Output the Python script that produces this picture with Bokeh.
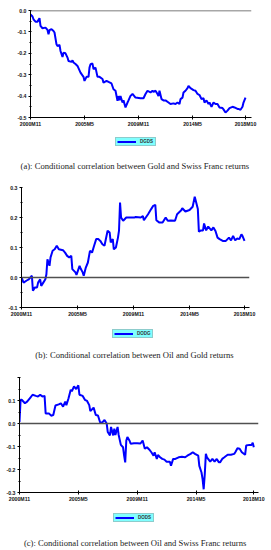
from bokeh.plotting import figure
from bokeh.layouts import column
from bokeh.models import (Range1d, FixedTicker, Span, Legend, LegendItem, Label,
                          ColumnDataSource)
from bokeh.embed import file_html
from bokeh.resources import INLINE

# ---------------- data ----------------
month_ticks = [0, 54, 108, 162, 215]
month_labels = ["2000M11", "2005M5", "2009M11", "2014M5", "2018M10"]

a_month = [0, 2, 3, 5, 7, 9, 10, 12, 15, 17, 18, 19, 21, 23, 24, 26, 27, 29, 30, 32,
           33, 35, 37, 38, 41, 42, 43, 45, 47, 50, 53, 54, 56, 58, 59, 60, 62, 63, 65, 67,
           69, 72, 73, 76, 78, 81, 83, 85, 87, 88, 89, 90, 92, 93, 95, 97, 98, 100, 102, 105,
           110, 113, 115, 117, 120, 122, 123, 125, 127, 128, 129, 131, 133, 135, 138, 140, 143, 145, 147, 149,
           150, 152, 153, 155, 157, 158, 160, 163, 165, 167, 169, 171, 173, 174, 176, 178, 179, 181, 183, 185,
           187, 189, 192, 193, 195, 197, 199, 202, 204, 207, 208, 210, 212, 213, 215]
a_corr = [-0.018, -0.028, -0.041, -0.052, -0.052, -0.036, -0.072, -0.083, -0.080, -0.091,
          -0.111, -0.092, -0.087, -0.096, -0.103, -0.158, -0.166, -0.161, -0.189, -0.217,
          -0.197, -0.200, -0.220, -0.236, -0.240, -0.233, -0.243, -0.250, -0.259, -0.290,
          -0.310, -0.329, -0.310, -0.310, -0.267, -0.251, -0.248, -0.274, -0.267, -0.310,
          -0.310, -0.320, -0.337, -0.329, -0.334, -0.341, -0.368, -0.375, -0.422, -0.400,
          -0.420, -0.400, -0.430, -0.420, -0.453, -0.430, -0.420, -0.399, -0.390, -0.407,
          -0.410, -0.410, -0.390, -0.375, -0.383, -0.375, -0.380, -0.375, -0.390, -0.400,
          -0.375, -0.414, -0.420, -0.420, -0.430, -0.437, -0.434, -0.437, -0.430, -0.437,
          -0.414, -0.407, -0.383, -0.375, -0.363, -0.352, -0.363, -0.372, -0.375, -0.390,
          -0.395, -0.414, -0.410, -0.430, -0.420, -0.437, -0.430, -0.450, -0.430, -0.437,
          -0.437, -0.453, -0.456, -0.462, -0.477, -0.468, -0.456, -0.450, -0.453, -0.460,
          -0.460, -0.464, -0.450, -0.430, -0.407]

b_month = [0, 2, 5, 7, 10, 11, 13, 15, 16, 18, 19, 21, 23, 24, 25, 27, 28, 30, 32, 34,
           36, 40, 42, 44, 46, 48, 49, 52, 53, 56, 57, 59, 60, 62, 64, 66, 68, 70, 72, 74,
           76, 78, 80, 83, 85, 86, 88, 89, 91, 93, 94, 95, 96, 98, 101, 105, 109, 110, 115, 117,
           118, 122, 125, 127, 129, 130, 133, 136, 139, 141, 144, 148, 150, 154, 155, 158, 162, 165, 167, 170,
           171, 173, 175, 176, 178, 180, 183, 185, 187, 189, 191, 194, 197, 200, 202, 204, 206, 208, 210, 212,
           213, 215]
b_corr = [0.000, -0.017, -0.010, -0.006, 0.006, -0.044, -0.033, -0.033, -0.017, -0.006,
          -0.028, -0.017, -0.006, 0.011, 0.061, 0.039, 0.067, 0.089, 0.094, 0.106,
          0.094, 0.091, 0.083, 0.072, 0.067, 0.072, 0.028, 0.017, 0.009, 0.039,
          0.030, 0.017, 0.006, 0.033, 0.050, 0.089, 0.083, 0.106, 0.128, 0.128,
          0.122, 0.111, 0.106, 0.156, 0.150, 0.117, 0.128, 0.094, 0.100, 0.133,
          0.156, 0.250, 0.200, 0.189, 0.200, 0.200, 0.200, 0.202, 0.200, 0.205,
          0.191, 0.211, 0.228, 0.239, 0.242, 0.191, 0.183, 0.183, 0.200, 0.189,
          0.190, 0.189, 0.211, 0.224, 0.231, 0.220, 0.225, 0.236, 0.269, 0.228,
          0.153, 0.157, 0.157, 0.180, 0.157, 0.170, 0.157, 0.167, 0.155, 0.133,
          0.128, 0.122, 0.122, 0.133, 0.124, 0.139, 0.124, 0.130, 0.128, 0.144,
          0.139, 0.122]

c_month = [0, 1, 2, 5, 7, 10, 12, 15, 17, 19, 21, 23, 24, 27, 29, 31, 33, 36, 38, 40,
           42, 43, 45, 47, 48, 50, 52, 54, 55, 58, 60, 62, 64, 65, 68, 70, 72, 74, 76, 78,
           80, 81, 83, 84, 86, 87, 88, 90, 91, 93, 95, 96, 97, 98, 99, 101, 102, 105, 108, 111,
           113, 115, 117, 119, 121, 123, 124, 126, 127, 129, 131, 133, 135, 138, 139, 141, 143, 146, 149, 152,
           154, 157, 159, 161, 164, 165, 167, 168, 169, 170, 171, 172, 175, 177, 179, 181, 183, 184, 186, 188,
           191, 194, 197, 198, 200, 202, 204, 207, 208, 211, 213, 214, 215]
c_corr = [0.007, 0.103, 0.103, 0.088, 0.095, 0.113, 0.125, 0.120, 0.117, 0.125,
          0.117, 0.120, 0.044, 0.044, 0.034, 0.037, 0.078, 0.083, 0.088, 0.073,
          0.095, 0.080, 0.110, 0.147, 0.140, 0.161, 0.150, 0.166, 0.125, 0.120,
          0.103, 0.098, 0.080, 0.054, 0.069, 0.037, 0.035, 0.004, 0.005, 0.015,
          0.000, -0.037, -0.052, -0.015, -0.052, -0.022, -0.050, -0.015, -0.050, -0.093,
          -0.103, -0.140, -0.169, -0.074, -0.059, -0.075, -0.088, -0.086, -0.086, -0.087,
          -0.074, -0.110, -0.103, -0.113, -0.125, -0.140, -0.125, -0.154, -0.137, -0.147,
          -0.154, -0.157, -0.166, -0.166, -0.184, -0.154, -0.154, -0.147, -0.145, -0.147,
          -0.140, -0.132, -0.125, -0.132, -0.140, -0.184, -0.213, -0.242, -0.286, -0.220,
          -0.132, -0.147, -0.166, -0.154, -0.166, -0.154, -0.169, -0.169, -0.154, -0.147,
          -0.136, -0.136, -0.132, -0.125, -0.108, -0.110, -0.125, -0.136, -0.096, -0.093,
          -0.093, -0.084, -0.103]

a_yticks = [-0.5, -0.4, -0.3, -0.2, -0.1, 0.0]
a_ylabels = ["-0.5", "-0.4", "-0.3", "-0.2", "-0.1", "0.0"]
b_yticks = [-0.1, 0.0, 0.1, 0.2, 0.3]
b_ylabels = ["-0.1", "0.0", "0.1", "0.2", "0.3"]
c_yticks = [-0.3, -0.2, -0.1, 0.0, 0.1, 0.2]
c_ylabels = ["-0.3", "-0.2", "-0.1", "0.0", "0.1", ""]

series_names = ["DGDS", "DODG", "DODS"]
captions = [
    "(a): Conditional correlation between Gold and Swiss Franc returns",
    "(b): Conditional correlation between Oil and Gold returns",
    "(c): Conditional correlation between Oil and Swiss Franc returns",
]

LINE_BLUE = "#0000ff"
AXIS_FONT = "Liberation Sans"
CAPTION_FONT = "Liberation Serif"
FIG_W = 271


def make_chart(months, corr, yticks, ylabels, x_end, height, b_left, b_right, b_top, b_bottom):
    p = figure(width=FIG_W, height=height, output_backend="svg", toolbar_location=None,
               x_range=Range1d(0, x_end), y_range=Range1d(yticks[0], yticks[-1]),
               min_border_left=b_left, min_border_right=b_right,
               min_border_top=b_top, min_border_bottom=b_bottom)
    p.frame_align = False
    p.grid.visible = False
    p.outline_line_color = None
    p.background_fill_color = "white"
    p.border_fill_color = "white"

    mids = [(yticks[i] + yticks[i + 1]) / 2 for i in range(len(yticks) - 1)]
    p.yaxis.ticker = FixedTicker(ticks=yticks, minor_ticks=mids)
    p.yaxis.major_label_overrides = dict(zip(yticks, ylabels))
    p.xaxis.ticker = FixedTicker(ticks=month_ticks)
    p.xaxis.major_label_overrides = dict(zip(month_ticks, month_labels))

    for ax in (p.xaxis[0], p.yaxis[0]):
        ax.axis_line_color = "black"
        ax.axis_line_width = 1
        ax.major_tick_line_color = "black"
        ax.major_label_text_font = AXIS_FONT
        ax.major_label_text_font_size = "5.2px"
        ax.major_label_text_font_style = "bold"
        ax.major_label_text_color = "#111111"
    p.yaxis.major_tick_in = 1
    p.yaxis.major_tick_out = 2
    p.yaxis.minor_tick_in = 1
    p.yaxis.minor_tick_out = 1
    p.yaxis.minor_tick_line_color = "black"
    p.yaxis.major_label_standoff = 2
    p.xaxis.major_tick_in = 2
    p.xaxis.major_tick_out = 2
    p.xaxis.minor_tick_line_color = None
    p.xaxis.major_label_standoff = 1

    p.add_layout(Span(location=0, dimension="width", line_color="#505050", line_width=1.5))

    src = ColumnDataSource(dict(m=months, v=corr))
    p.line(x="m", y="v", source=src, line_color=LINE_BLUE, line_width=2)
    return p


def make_footer(height, name, months, corr, legend_xy, caption, caption_xy):
    f = figure(width=FIG_W, height=height, output_backend="svg", toolbar_location=None,
               x_axis_type=None, y_axis_type=None,
               x_range=Range1d(0, FIG_W), y_range=Range1d(0, height),
               min_border=0)
    f.frame_align = False
    f.grid.visible = False
    f.outline_line_color = None
    f.background_fill_color = "white"
    f.border_fill_color = "white"
    # legend swatch renderer: a single data point, so it draws nothing itself
    swatch = f.line(x=months[:1], y=corr[:1], line_color=LINE_BLUE, line_width=2)
    legend = Legend(items=[LegendItem(label=name, renderers=[swatch])], location=legend_xy,
                    background_fill_color="#80ffff", background_fill_alpha=1.0,
                    border_line_color="#9a9a9a", border_line_width=0.7,
                    padding=1, spacing=0, margin=0, glyph_width=19, glyph_height=5,
                    label_standoff=4, label_width=14, label_height=5,
                    label_text_font=AXIS_FONT, label_text_font_size="4.5px",
                    label_text_font_style="bold", label_text_color="#333333")
    f.add_layout(legend)
    f.add_layout(Label(x=caption_xy[0], y=caption_xy[1], x_units="screen", y_units="screen",
                       text=caption, text_align="center", text_baseline="middle",
                       text_font=CAPTION_FONT, text_font_size="8.6px", text_color="#222222"))
    return f


ca = make_chart(a_month, a_corr, a_yticks, a_ylabels, 221, 130, 30, 20, 10, 13)
fa = make_footer(42, series_names[0], a_month, a_corr, (115, 26), captions[0], (134.4, 6.4))
cb = make_chart(b_month, b_corr, b_yticks, b_ylabels, 219.8, 148, 21, 22, 15, 13)
fb = make_footer(42, series_names[1], b_month, b_corr, (112, 24), captions[1], (134, 7.5))
cc = make_chart(c_month, c_corr, c_yticks, c_ylabels, 219.3, 142, 19, 13, 15, 12)
fc = make_footer(46, series_names[2], c_month, c_corr, (113, 28), captions[2], (134.6, 8))

layout = column(ca, fa, cb, fb, cc, fc, spacing=0)
open("out.html", "w").write(file_html(layout, INLINE))
